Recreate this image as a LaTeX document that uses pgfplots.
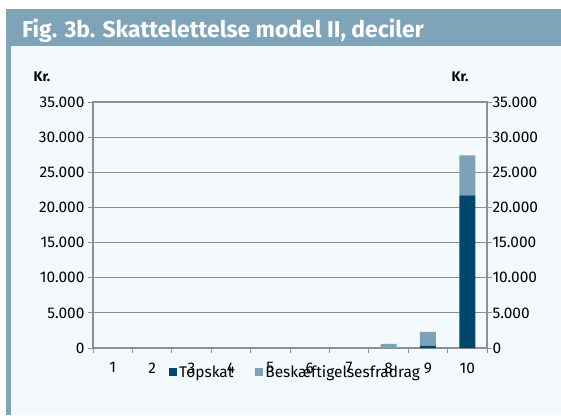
\documentclass[border=0pt]{standalone}
\usepackage{fontspec}
\setmainfont{Fira Sans}
\usepackage{pgfplots}
\pgfplotsset{compat=1.18}
\definecolor{bgc}{HTML}{F4F9FD}
\definecolor{barc}{HTML}{7FA3B8}
\definecolor{darkb}{HTML}{00466E}
\definecolor{lightb}{HTML}{7DA2B8}
\definecolor{gridc}{HTML}{8F8F8F}
\begin{document}
\begin{tikzpicture}[x=1bp,y=1bp]
\fill[white] (0,0) rectangle (561,415);
\fill[bgc] (6,0) rectangle (561,369);
\fill[barc] (6,369) rectangle (561,406);
\fill[barc] (6,0) rectangle (11,369);
\node[anchor=base west, text=white, inner sep=0pt, font=\bfseries\fontsize{23}{27}\selectfont] at (22,378) {Fig. 3b. Skattelettelse model II, deciler};
\node[font=\bfseries\fontsize{14}{16}\selectfont, inner sep=0pt] at (42,338) {Kr.};
\node[font=\bfseries\fontsize{14}{16}\selectfont, inner sep=0pt] at (460,338) {Kr.};
\begin{axis}[
  at={(93bp,67bp)}, anchor=south west, scale only axis,
  width=394bp, height=246bp,
  ybar stacked, bar width=16bp,
  xmin=0.5, xmax=10.5, ymin=0, ymax=35000,
  ytick={0,5000,...,35000},
  ymajorgrids, grid style={gridc, line width=1pt},
  axis line style={gridc, line width=1.2pt},
  tick style={gridc, line width=1pt},
  major tick length=5bp, tick align=outside,
  xtick={0.5,1.5,...,10.5}, xticklabels={1,2,3,4,5,6,7,8,9,10},
  x tick label as interval,
  xtick pos=bottom, ytick pos=left,
  /pgf/number format/.cd, 1000 sep={.}, assume math mode=true, /pgfplots/.cd,
  scaled y ticks=false,
  tick label style={font=\fontsize{15.5}{17}\selectfont},
  xticklabel style={yshift=-6bp},
  legend style={draw=none, fill=none, anchor=west, at={(0.193,-0.0976)}, inner sep=0pt,
    legend columns=-1, font=\fontsize{15.5}{17}\selectfont,
    /tikz/every even column/.append style={column sep=20bp}},
  legend image code/.code={\fill[#1] (0bp,-4bp) rectangle (8bp,4bp);},
]
\addplot[fill=darkb, draw=none] coordinates {(1,0) (2,0) (3,0) (4,0) (5,0) (6,0) (7,0) (8,0) (9,300) (10,21700)};
\addplot[fill=lightb, draw=none] coordinates {(1,0) (2,0) (3,0) (4,0) (5,0) (6,0) (7,0) (8,600) (9,2000) (10,5700)};
\legend{Topskat, Beskæftigelsesfradrag}
\end{axis}
\begin{axis}[
  at={(93bp,67bp)}, anchor=south west, scale only axis,
  width=394bp, height=246bp,
  xmin=0.5, xmax=10.5, ymin=0, ymax=35000,
  ytick={0,5000,...,35000},
  axis x line=none, axis y line*=right,
  axis line style={gridc, line width=1.2pt},
  tick style={gridc, line width=1pt},
  major tick length=5bp, tick align=outside,
  /pgf/number format/.cd, 1000 sep={.}, assume math mode=true, /pgfplots/.cd,
  scaled y ticks=false,
  tick label style={font=\fontsize{15.5}{17}\selectfont},
  yticklabel style={xshift=-3bp},
]
\addplot[draw=none] coordinates {(1,0)};
\end{axis}
\end{tikzpicture}
\end{document}
